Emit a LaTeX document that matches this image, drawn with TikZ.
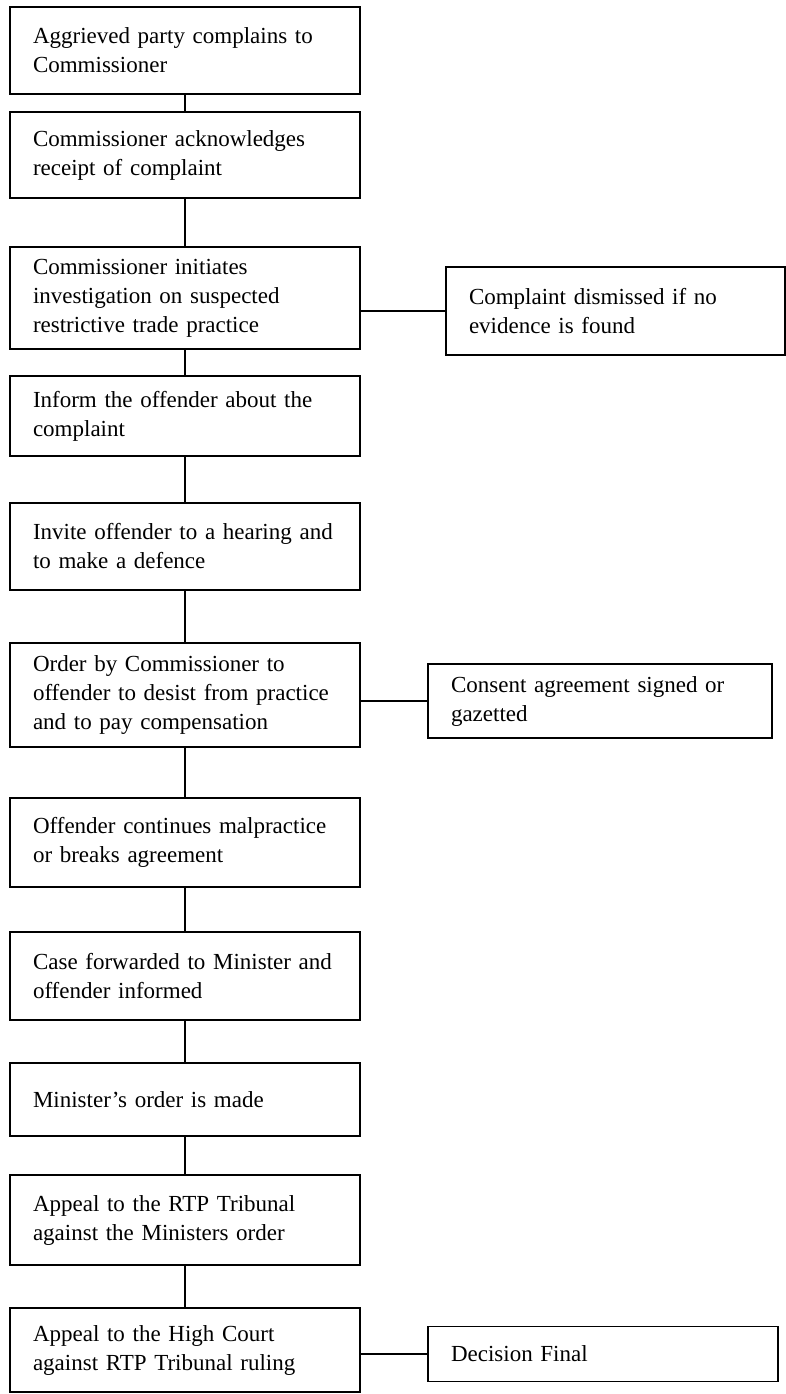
\documentclass[tikz,border=0pt]{standalone}
\usepackage{fontspec}
\setmainfont{Liberation Serif}
\usetikzlibrary{positioning}

\begin{document}
\begin{tikzpicture}[x=0.5pt, y=-0.5pt,
    font=\fontsize{11.5}{14.5}\selectfont,
    line width=0.9pt,
    stage/.style={shape=rectangle, draw, align=left, outer sep=0pt,
      text width=152pt, inner xsep=11.5pt, inner ysep=0pt},
    outcome/.style={shape=rectangle, draw, align=left, outer sep=0pt,
      inner xsep=11.5pt, inner ysep=0pt}]

    \useasboundingbox (0,0) rectangle (786,1394);

    \node[name=complain, stage, minimum height=43.5pt, anchor=north]
      at (185,7) {Aggrieved party complains to\\Commissioner};

    \node[name=ack, stage, minimum height=43pt,
      below=9pt of complain] {Commissioner acknowledges\\receipt of complaint};

    \node[name=inv, stage, minimum height=51pt,
      below=24.5pt of ack] {Commissioner initiates\\investigation on suspected\\restrictive trade practice};

    \node[name=inform, stage, minimum height=40pt,
      below=13.5pt of inv] {Inform the offender about the\\complaint};

    \node[name=hearing, stage, minimum height=43.5pt,
      below=23.5pt of inform] {Invite offender to a hearing and\\to make a defence};

    \node[name=order, stage, minimum height=52pt,
      below=26.5pt of hearing] {Order by Commissioner to\\offender to desist from practice\\and to pay compensation};

    \node[name=breach, stage, minimum height=44.5pt,
      below=25.5pt of order] {Offender continues malpractice\\or breaks agreement};

    \node[name=minister, stage, minimum height=44pt,
      below=22.5pt of breach] {Case forwarded to Minister and\\offender informed};

    \node[name=morder, stage, minimum height=36.5pt,
      below=21.5pt of minister] {Minister’s order is made};

    \node[name=tribunal, stage, minimum height=45pt,
      below=19.5pt of morder] {Appeal to the RTP Tribunal\\against the Ministers order};

    \node[name=highcourt, stage, minimum height=42pt,
      below=21.5pt of tribunal] {Appeal to the High Court\\against RTP Tribunal ruling};

    % outcomes on the right
    \node[name=dismiss, outcome, text width=146.5pt, minimum height=44pt,
      right=43pt of inv, yshift=-6.5pt] {Complaint dismissed if no\\evidence is found};

    \node[name=consent, outcome, text width=149pt, minimum height=37pt,
      right=34pt of order, yshift=-3pt] {Consent agreement signed or\\gazetted};

    \node[name=final, outcome, text width=152pt, minimum height=27.5pt,
      right=34pt of highcourt, yshift=-2pt] {Decision Final};

    \path (complain) edge (ack);
    \path (ack) edge (inv);
    \path (inv) edge (inform);
    \path (inform) edge (hearing);
    \path (hearing) edge (order);
    \path (order) edge (breach);
    \path (breach) edge (minister);
    \path (minister) edge (morder);
    \path (morder) edge (tribunal);
    \path (tribunal) edge (highcourt);

    \path (dismiss.west) edge (dismiss.west -| inv.east);
    \path (consent.west) edge (consent.west -| order.east);
    \path (final.west) edge (final.west -| highcourt.east);
  \end{tikzpicture}
\end{document}
